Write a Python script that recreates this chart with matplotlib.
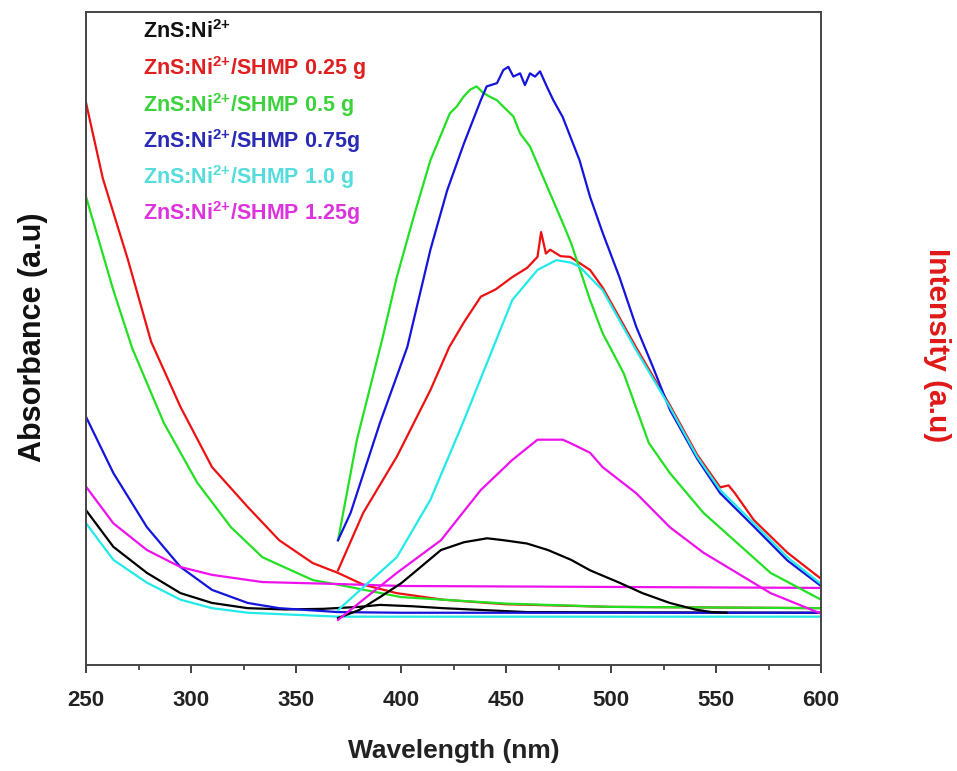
import matplotlib
matplotlib.use("Agg")
import matplotlib.pyplot as plt
from matplotlib.ticker import MultipleLocator

plt.rcParams['font.family'] = ['Liberation Sans', 'DejaVu Sans']
plt.rcParams['mathtext.fontset'] = 'custom'
plt.rcParams['mathtext.bf'] = 'Liberation Sans:bold'
plt.rcParams['mathtext.rm'] = 'Liberation Sans:bold'

# absorbance spectra (250-600 nm), arbitrary units
abs_black_wl = [250, 263, 279, 295, 310, 327, 345, 363, 380, 390, 405, 420, 440, 460, 600]
abs_black = [23.7, 18.1, 14.1, 11.0, 9.5, 8.7, 8.5, 8.6, 8.9, 9.2, 9.0, 8.7, 8.4, 8.1, 8.0]
abs_red_wl = [250, 258, 270, 281, 295, 310, 327, 342, 358, 370, 382, 398, 420, 450, 500, 600]
abs_red = [86.1, 74.5, 62.0, 49.5, 39.5, 30.3, 24.2, 19.1, 15.6, 14.1, 12.3, 11.0, 10.0, 9.3, 8.9, 8.7]
abs_green_wl = [250, 263, 272, 287, 303, 319, 334, 358, 370, 400, 450, 500, 600]
abs_green = [71.7, 57.4, 48.5, 37.1, 27.9, 21.1, 16.5, 13.0, 12.3, 10.4, 9.4, 8.9, 8.7]
abs_blue_wl = [250, 263, 279, 295, 310, 327, 342, 370, 400, 600]
abs_blue = [38.0, 29.4, 21.1, 15.0, 11.5, 9.5, 8.7, 8.1, 8.0, 8.0]
abs_cyan_wl = [250, 263, 279, 295, 310, 327, 370, 600]
abs_cyan = [21.7, 16.1, 12.6, 10.0, 8.7, 8.0, 7.4, 7.4]
abs_magenta_wl = [250, 263, 279, 295, 310, 334, 370, 400, 600]
abs_magenta = [27.3, 21.7, 17.6, 15.0, 13.8, 12.7, 12.4, 12.1, 11.8]

# photoluminescence spectra (370-600 nm)
pl_black_wl = [370, 380, 390, 400, 406, 419, 430, 441, 449, 460, 470, 481, 490, 504, 515, 528, 540, 548, 555]
pl_black = [7.2, 8.4, 10.4, 12.5, 14.1, 17.6, 18.8, 19.4, 19.1, 18.6, 17.6, 16.1, 14.5, 12.6, 11.0, 9.5, 8.5, 8.1, 8.0]
pl_red_wl = [370, 382, 398, 414, 423, 430, 438, 445, 453, 460, 465, 466.7, 469, 471, 476, 480.5, 490,
             496, 512, 528, 541, 552, 556, 559, 568, 584, 600]
pl_red = [14.5, 23.3, 31.9, 42.1, 48.7, 52.5, 56.4, 57.5, 59.4, 60.8, 62.5, 66.3, 63.0, 63.6, 62.6, 62.5, 60.5,
          57.8, 48.6, 39.8, 32.2, 27.2, 27.5, 26.3, 22.2, 17.2, 13.2]
pl_green_wl = [370, 379, 387, 391, 398, 406, 414, 423.3, 426.5, 429.7, 432.9, 436, 439.2, 442.4, 445.6, 448.7,
               453.5, 456.7, 461.4, 466.2, 477, 481, 490, 496, 506, 518, 528, 544, 560, 576, 600]
pl_green = [19.1, 34.5, 44.7, 49.8, 59.4, 68.6, 77.3, 84.5, 85.5, 87.0, 88.1, 88.6, 87.6, 87.0, 86.5, 85.5,
            84.0, 81.4, 79.4, 75.8, 67.7, 64.6, 55.9, 50.8, 44.7, 34.0, 29.4, 23.3, 18.7, 14.1, 10.0]
pl_blue_wl = [370, 376, 390, 403, 414, 422, 430, 438, 440.8, 445.7, 448.7, 451.1, 453.5, 456.7, 459, 461.4,
              463.8, 466.2, 469.4, 472.5, 477, 485, 490, 496, 504, 512, 520, 528, 541, 552, 568, 584, 600]
pl_blue = [19.1, 23.3, 37.1, 48.7, 63.6, 72.7, 79.9, 86.5, 88.6, 89.1, 91.1, 91.6, 90.1, 90.6, 88.8, 90.6,
           90.1, 90.9, 88.6, 86.5, 83.9, 77.3, 71.7, 66.2, 59.4, 51.8, 45.6, 39.1, 31.6, 26.3, 21.2, 16.0, 12.1]
pl_cyan_wl = [370, 382, 398, 414, 429.5, 445, 453, 465, 474, 481, 485, 496, 512, 528, 541, 552, 568, 584, 600]
pl_cyan = [8.4, 11.9, 16.5, 25.3, 37.1, 49.5, 55.9, 60.5, 62.0, 61.6, 61.0, 57.4, 48.2, 39.5, 31.9, 26.8, 21.7, 16.5, 12.4]
pl_magenta_wl = [370, 382, 398, 419, 438, 453, 465, 477, 480.5, 490, 496, 512, 528, 544, 560, 576, 599, 600]
pl_magenta = [6.9, 10.0, 14.1, 19.1, 26.8, 31.4, 34.5, 34.5, 34.0, 32.5, 30.3, 26.3, 21.1, 17.2, 14.1, 11.0, 8.0, 7.9]

sup = r'$^{\mathbf{2{+}}}$'
labels = ['ZnS:Ni' + sup,
          'ZnS:Ni' + sup + '/SHMP 0.25 g',
          'ZnS:Ni' + sup + '/SHMP 0.5 g',
          'ZnS:Ni' + sup + '/SHMP 0.75g',
          'ZnS:Ni' + sup + '/SHMP 1.0 g',
          'ZnS:Ni' + sup + '/SHMP 1.25g']
line_colors = ['#000000', '#ee1111', '#22e022', '#1414dd', '#22eaea', '#ee11ee']
text_colors = ['#111111', '#e02020', '#3cd23c', '#2a2ab4', '#55dddd', '#dd33dd']

abs_sets = [(abs_black_wl, abs_black), (abs_red_wl, abs_red), (abs_green_wl, abs_green),
            (abs_blue_wl, abs_blue), (abs_cyan_wl, abs_cyan), (abs_magenta_wl, abs_magenta)]
pl_sets = [(pl_black_wl, pl_black), (pl_red_wl, pl_red), (pl_green_wl, pl_green),
           (pl_blue_wl, pl_blue), (pl_cyan_wl, pl_cyan), (pl_magenta_wl, pl_magenta)]

fig = plt.figure(figsize=(9.57, 7.71), dpi=100)
ax = fig.add_axes([0.0899, 0.1375, 0.768, 0.847])

for (x, y), c in zip(abs_sets, line_colors):
    ax.plot(x, y, color=c, lw=1.6)
for (x, y), c in zip(pl_sets, line_colors):
    ax.plot(x, y, color=c, lw=1.6)

ax.set_xlim(250, 600)
ax.set_ylim(0, 100)
ax.xaxis.set_major_locator(MultipleLocator(50))
ax.xaxis.set_minor_locator(MultipleLocator(25))
ax.tick_params(axis='x', which='major', direction='out', length=6, width=1.3,
               labelsize=16, pad=12, colors='#333333')
ax.tick_params(axis='x', which='minor', direction='out', length=3.5, width=1.2, colors='#333333')
ax.tick_params(axis='y', left=False, labelleft=False)
for lab in ax.get_xticklabels():
    lab.set_fontweight('bold')
    lab.set_color('#222222')
for s in ax.spines.values():
    s.set_color('#444444')
    s.set_linewidth(1.4)

ax.set_xlabel('Wavelength (nm)', fontsize=19, fontweight='bold', color='#222222', labelpad=20)
fig.text(0.034, 0.563, 'Absorbance (a.u)', rotation=90, fontsize=22, fontweight='bold',
         color='#111111', ha='center', va='center')
fig.text(0.979, 0.553, 'Intensity (a.u)', rotation=270, fontsize=21.5, fontweight='bold',
         color='#e01818', ha='center', va='center')

for i, (t, c) in enumerate(zip(labels, text_colors)):
    fig.text(143 / 957, 1 - (32 + 36.3 * i) / 771, t, color=c, fontsize=15.5,
             fontweight='bold', ha='left', va='center')

fig.savefig('out.png', dpi=100)
